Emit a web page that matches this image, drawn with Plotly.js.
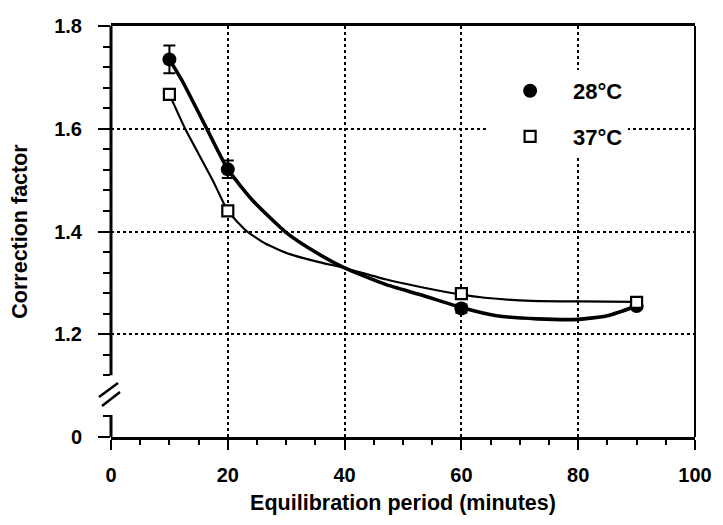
<!DOCTYPE html>
<html>
<head>
<meta charset="utf-8">
<script src="https://cdn.plot.ly/plotly-3.0.1.min.js"></script>
<style>html,body{margin:0;padding:0;background:#fff;}#chart{width:723px;height:525px;}</style>
</head>
<body>
<div id="chart"></div>
<script>
// Measured points
var timeMin = [10, 20, 60, 90];
var cf28 = [1.735, 1.521, 1.250, 1.255];
var cf28Err = [0.027, 0.017, 0.008, 0.006];
var cf37 = [1.667, 1.440, 1.279, 1.262];

// Fitted curves
var fit28X = [10, 12.3, 16.4, 20, 24.3, 30, 35, 40, 47, 53, 60, 66, 73, 80, 85, 90];
var fit28Y = [1.735, 1.691, 1.600, 1.521, 1.460, 1.398, 1.360, 1.329, 1.297, 1.277, 1.252, 1.236, 1.230, 1.229, 1.236, 1.255];
var fit37X = [10, 12.7, 15, 17.5, 20, 23.3, 26.5, 30.6, 35.8, 40, 47, 53, 60, 64, 72, 80, 90];
var fit37Y = [1.667, 1.600, 1.551, 1.498, 1.440, 1.400, 1.376, 1.356, 1.340, 1.329, 1.307, 1.292, 1.277, 1.271, 1.265, 1.264, 1.263];

// Axis ticks
var xMajor = [0, 20, 40, 60, 80, 100];
var yMajorVals = [1.0, 1.2, 1.4, 1.6, 1.8];
var yMajorText = ['0', '1.2', '1.4', '1.6', '1.8'];
var yMinorVals = [1.04, 1.12, 1.16, 1.24, 1.28, 1.32, 1.36, 1.44, 1.48, 1.52, 1.56, 1.64, 1.68, 1.72, 1.76];

var FONT = 'Liberation Sans, Arial, Helvetica, sans-serif';
function B(s) { return '<b>' + s + '</b>'; }

var traces = [
  {x: fit28X, y: fit28Y, mode: 'lines', line: {color: '#000', width: 3.6, shape: 'spline', smoothing: 0.5},
   showlegend: false, hoverinfo: 'skip'},
  {x: fit37X, y: fit37Y, mode: 'lines', line: {color: '#000', width: 2.2, shape: 'spline', smoothing: 0.5},
   showlegend: false, hoverinfo: 'skip'},
  {x: timeMin, y: cf28, name: B('28°C'), mode: 'markers', legendgroup: 'a',
   marker: {symbol: 'circle', size: 14, color: '#000'},
   error_y: {type: 'data', array: cf28Err, visible: true, color: '#000', thickness: 2, width: 6}},
  {x: timeMin, y: cf37, name: B('37°C'), mode: 'markers', legendgroup: 'b',
   marker: {symbol: 'square', size: 11, color: '#fff', line: {color: '#000', width: 2.2}}}
];

var layout = {
  width: 723, height: 525,
  margin: {l: 111, r: 28, t: 26, b: 88},
  paper_bgcolor: '#fff', plot_bgcolor: '#fff',
  font: {family: FONT, size: 20, color: '#000'},
  showlegend: true,
  legend: {x: 0.644, y: 0.893, xanchor: 'left', yanchor: 'top', bgcolor: '#fff', itemwidth: 76,
           font: {family: FONT, size: 22, color: '#000'}, tracegroupgap: 14, traceorder: 'grouped'},
  xaxis: {
    range: [0, 100], tickmode: 'array', tickvals: xMajor, ticktext: xMajor.map(function (v) { return B(v); }),
    ticks: 'outside', ticklen: 10, tickwidth: 2, tickcolor: '#000',
    showline: true, linewidth: 3, linecolor: '#000', mirror: true,
    showgrid: true, gridcolor: '#000', gridwidth: 2, griddash: 'dot', zeroline: false,
    minor: {dtick: 5, tick0: 0, ticks: 'outside', ticklen: 5, tickwidth: 2, tickcolor: '#000', showgrid: false},
    ticklabelstandoff: 8,
    title: {text: B('Equilibration period (minutes)'), font: {family: FONT, size: 21.5}, standoff: 10}
  },
  yaxis: {
    range: [1.0, 1.8], tickmode: 'array', tickvals: yMajorVals, ticktext: yMajorText.map(B),
    ticks: 'outside', ticklen: 12, tickwidth: 2, tickcolor: '#000',
    showline: false, zeroline: false,
    showgrid: true, gridcolor: '#000', gridwidth: 2, griddash: 'dot',
    minor: {tickmode: 'array', tickvals: yMinorVals, ticks: 'outside', ticklen: 7, tickwidth: 2, tickcolor: '#000', showgrid: false},
    ticklabelstandoff: 12,
    title: {text: B('Correction factor'), font: {family: FONT, size: 21.5}, standoff: 20}
  },
  shapes: [
    {type: 'line', xref: 'paper', yref: 'y', x0: 0, x1: 0, y0: 1.12, y1: 1.8, line: {color: '#000', width: 3}},
    {type: 'line', xref: 'paper', yref: 'y', x0: 0, x1: 0, y0: 1.0, y1: 1.043, line: {color: '#000', width: 3}},
    {type: 'line', xref: 'paper', yref: 'paper', x0: 1, x1: 1, y0: 0, y1: 1, line: {color: '#000', width: 2}},
    {type: 'line', xref: 'paper', yref: 'y', xsizemode: 'pixel', ysizemode: 'pixel', xanchor: 0, yanchor: 1.08,
     x0: -12, x1: 7, y0: -1, y1: 13, line: {color: '#000', width: 2.5}},
    {type: 'line', xref: 'paper', yref: 'y', xsizemode: 'pixel', ysizemode: 'pixel', xanchor: 0, yanchor: 1.08,
     x0: -9, x1: 9, y0: -10, y1: 4, line: {color: '#000', width: 2.5}}
  ]
};

Plotly.newPlot('chart', traces, layout, {staticPlot: true, displayModeBar: false});
</script>
</body>
</html>
